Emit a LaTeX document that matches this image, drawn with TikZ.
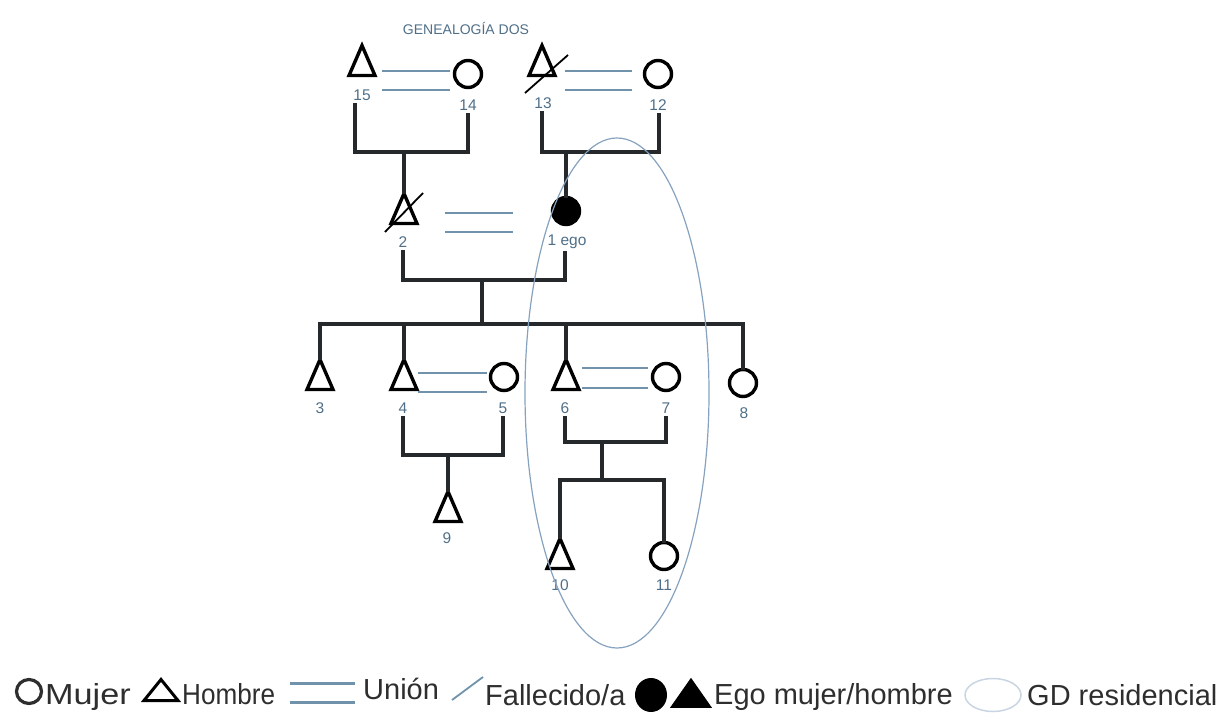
\documentclass[tikz,border=0pt]{standalone}
\usepackage{fontspec}
\setmainfont{Liberation Sans}
\usetikzlibrary{shapes.geometric,calc}

\definecolor{kinline}{HTML}{26292C}
\definecolor{unionline}{HTML}{7093AB}
\definecolor{numtext}{HTML}{4F6F88}
\definecolor{gdline}{HTML}{86A2BE}
\definecolor{legtext}{HTML}{2E2E2E}

\begin{document}
\begin{tikzpicture}[x=1pt,y=-1pt,
  man/.style={isosceles triangle,isosceles triangle stretches,shape border rotate=90,
    minimum width=26pt,minimum height=30pt,inner sep=0pt,outer sep=0pt,draw=black,line width=3.4pt},
  woman/.style={circle,minimum size=27pt,inner sep=0pt,outer sep=0pt,draw=black,line width=3.4pt},
  egow/.style={woman,fill=black},
  kin/.style={draw=kinline,line width=3.6pt},
  union/.style={draw=unionline,line width=2pt},
  dead/.style={draw=black,line width=1.8pt},
  num/.style={text=numtext,font=\fontsize{15.5}{18}\selectfont,inner sep=0.5pt,outer sep=2pt},
  leg/.style={text=legtext,font=\fontsize{29}{34}\selectfont,inner sep=0pt,anchor=base west}]
\useasboundingbox (0,0) rectangle (1232,715);

\node[text=numtext,font=\fontsize{14}{16}\selectfont] (title) at (466,28) {GENEALOGÍA DOS};

% grandparents
\node[man] (n15) at (362,67) {};
\node[woman] (n14) at (468,74) {};
\node[man] (n13) at (542,67) {};
\node[woman] (n12) at (658,74) {};
\node[num] (l15) at (362,95) {15};
\node[num] (l14) at (468,105) {14};
\node[num] (l13) at (543,103) {13};
\node[num] (l12) at (658,105) {12};

\draw[union] (382,71) -- (450,71);
\draw[union] (382,90) -- (450,90);
\draw[union] (565,71) -- (632,71);
\draw[union] (565,90) -- (632,90);
\draw[dead] ($(n13)+(-17,26)$) -- ($(n13)+(26,-12)$);

% parents
\node[man] (n2) at (404,215) {};
\node[egow] (n1) at (566,211) {};
\node[num] (l2) at (403,242) {2};
\node[num] (l1) at (567,242) {1 ego};

\draw[union] (445,213) -- (513,213);
\draw[union] (445,232) -- (513,232);
\draw[dead] ($(n2)+(-19,17)$) -- ($(n2)+(19,-22)$);

\coordinate (j15) at (355,152);
\coordinate (j14) at (468,152);
\coordinate (j13) at (542,152);
\coordinate (j12) at (659,152);
\draw[kin] (l15.south -| j15) -- (j15) -- (j14) -- (l14.south);
\draw[kin] (l13.south -| j13) -- (j13) -- (j12) -- (l12.south -| j12);
\draw[kin] (n2.apex |- j15) -- (n2.apex);
\draw[kin] (n1.north |- j13) -- (n1.north);

% children of 2 and 1
\node[man] (n3) at (320,381) {};
\node[man] (n4) at (404,381) {};
\node[woman] (n5) at (504,377) {};
\node[man] (n6) at (566,381) {};
\node[woman] (n7) at (666,377) {};
\node[woman] (n8) at (743,383) {};
\node[num] (l3) at (320,408) {3};
\node[num] (l4) at (403,408) {4};
\node[num] (l5) at (503,408) {5};
\node[num] (l6) at (565,408) {6};
\node[num] (l7) at (666,408) {7};
\node[num] (l8) at (744,413) {8};

\draw[union] (418,373) -- (487,373);
\draw[union] (418,392) -- (487,392);
\draw[union] (582,368) -- (648,368);
\draw[union] (582,388) -- (648,388);

\coordinate (j2) at (403,280);
\coordinate (j1) at (565,280);
\coordinate (d21) at (482,280);
\coordinate (s3) at (320,324);
\coordinate (s8) at (743,324);
\draw[kin] (l2.south -| j2) -- (j2) -- (j1) -- (l1.south -| j1);
\draw[kin] (d21) -- (d21 |- s3);
\draw[kin] (n3.apex) -- (s3) -- (s8) -- (n8.north);
\draw[kin] (n4.apex |- s3) -- (n4.apex);
\draw[kin] (n6.apex |- s3) -- (n6.apex);

% grandchildren
\node[man] (n9) at (448,513) {};
\node[man] (n10) at (560,560) {};
\node[woman] (n11) at (664,556) {};
\node[num] (l9) at (447,538) {9};
\node[num] (l10) at (560,585) {10};
\node[num] (l11) at (664,585) {11};

\coordinate (j4) at (403,455);
\coordinate (j5) at (503,455);
\draw[kin] (l4.south -| j4) -- (j4) -- (j5) -- (l5.south);
\draw[kin] (n9.apex |- j4) -- (n9.apex);

\coordinate (j6) at (565,442);
\coordinate (j7) at (666,442);
\coordinate (d67) at (602,442);
\coordinate (s10) at (560,480);
\coordinate (s11) at (664,480);
\draw[kin] (l6.south -| j6) -- (j6) -- (j7) -- (l7.south -| j7);
\draw[kin] (d67) -- (d67 |- s10);
\draw[kin] (n10.apex) -- (s10) -- (s11) -- (n11.north);

% residential group
\node[ellipse,draw=gdline,line width=1.2pt,minimum width=184pt,minimum height=510pt] (gd) at (617,393) {};

% key
\node[ellipse,draw=legtext,line width=3.2pt,minimum width=25pt,minimum height=24pt,inner sep=0pt] (kw) at (29,691.5) {};
\node[leg] (tw) at (45,704) {\scalebox{1.18}[1]{Mujer}};
\node[isosceles triangle,isosceles triangle stretches,shape border rotate=90,draw=black,line width=3pt,
  minimum width=34pt,minimum height=21pt,inner sep=0pt,anchor=lower side] (km) at (161,702) {};
\node[leg] (tm) at (182,704) {\scalebox{0.9}[1]{Hombre}};
\draw[union,line width=3pt] (290,683) -- (355,683);
\draw[union,line width=3pt] (290,702) -- (355,702);
\node[leg] (tu) at (363,699) {Unión};
\draw[draw=unionline,line width=1.8pt] (452,700) -- (483,677);
\node[leg] (tf) at (485,705) {Fallecido/a};
\node[ellipse,fill=black,minimum width=32pt,minimum height=34pt,inner sep=0pt] (ke) at (651,695) {};
\node[isosceles triangle,isosceles triangle stretches,shape border rotate=90,fill=black,
  minimum width=42pt,minimum height=30pt,inner sep=0pt,anchor=lower side] (kh) at (691,708) {};
\node[leg] (te) at (714,704) {Ego mujer/hombre};
\node[ellipse,draw=gdline!45,line width=1.5pt,minimum width=56pt,minimum height=33pt] (kg) at (993,695) {};
\node[leg] (tg) at (1027,705) {GD residencial};
\end{tikzpicture}
\end{document}
